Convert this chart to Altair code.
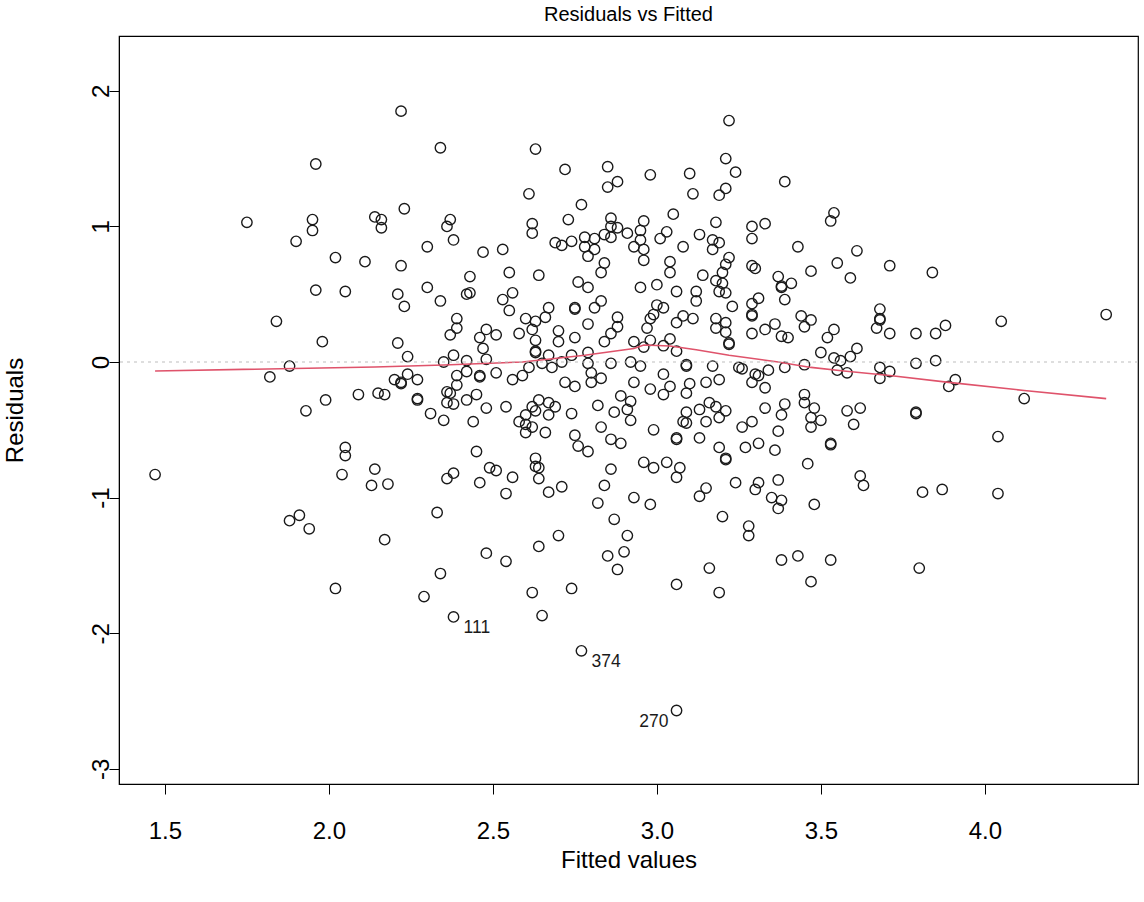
import altair as alt
import pandas as pd

FONT = "Liberation Sans"

# ---- data (fitted value, residual) ----
fit_a = [1.96, 1.75, 1.95, 1.95, 1.90, 2.02, 2.11, 2.14, 2.16, 2.16,
         1.96, 2.05, 1.84, 1.98, 1.88, 1.82, 2.09, 2.15, 1.99, 1.93,
         2.05, 2.05, 2.04, 1.47, 2.14, 2.13, 1.91, 1.88, 1.94, 2.02]
res_a = [1.46, 1.03, 1.05, 0.97, 0.89, 0.77, 0.74, 1.07, 1.05, 0.99,
         0.53, 0.52, 0.30, 0.15, -0.03, -0.11, -0.24, -0.23, -0.28, -0.36,
         -0.63, -0.69, -0.83, -0.83, -0.79, -0.91, -1.13, -1.17, -1.23, -1.67]

fit_b = [2.22, 2.34, 2.63, 2.72, 2.85, 2.88, 2.85, 2.61, 2.77, 2.23,
         2.37, 2.36, 2.38, 2.30, 2.47, 2.53, 2.62, 2.62, 2.73, 2.69,
         2.71, 2.74, 2.78, 2.81, 2.78, 2.81, 2.79, 2.86, 2.86, 2.88,
         2.86, 2.84, 2.91, 2.93, 2.22, 2.43, 2.55, 2.64, 2.84, 2.83,
         2.76, 2.79, 2.30]
res_b = [1.85, 1.58, 1.57, 1.42, 1.44, 1.33, 1.29, 1.24, 1.16, 1.13,
         1.05, 1.00, 0.90, 0.85, 0.81, 0.83, 1.02, 0.95, 1.05, 0.88,
         0.86, 0.89, 0.92, 0.91, 0.85, 0.83, 0.78, 1.06, 1.00, 0.99,
         0.92, 0.94, 0.95, 0.85, 0.71, 0.63, 0.66, 0.64, 0.73, 0.66,
         0.59, 0.55, 0.55]

fit_c = [3.22, 3.21, 3.24, 2.98, 3.10, 3.11, 3.19, 3.21, 3.39, 3.05,
         2.96, 2.95, 2.95, 2.96, 2.96, 3.01, 3.03, 3.08, 3.13, 3.18,
         3.17, 3.19, 3.17, 3.22, 3.21, 3.20, 3.18, 3.20, 3.04, 3.04,
         3.14, 3.00, 2.95, 3.29, 3.29, 3.33, 3.43, 3.54, 3.53, 3.61,
         3.55, 3.47, 3.59, 3.29, 3.30, 3.37, 3.41, 3.38, 3.71, 3.84]
res_c = [1.78, 1.50, 1.40, 1.38, 1.39, 1.24, 1.23, 1.28, 1.33, 1.09,
         1.04, 0.97, 0.90, 0.83, 0.75, 0.91, 0.96, 0.85, 0.94, 1.03,
         0.90, 0.88, 0.83, 0.77, 0.72, 0.66, 0.60, 0.58, 0.74, 0.66,
         0.64, 0.57, 0.55, 1.00, 0.91, 1.02, 0.85, 1.10, 1.04, 0.82,
         0.73, 0.67, 0.62, 0.71, 0.69, 0.63, 0.58, 0.56, 0.71, 0.66]

fit_d = [2.21, 2.23, 2.34, 2.42, 2.43, 2.53, 2.56, 2.55, 2.39, 2.39,
         2.37, 2.46, 2.48, 2.51, 2.47, 2.48, 2.21, 2.24, 2.38, 2.35,
         2.42, 2.42, 2.39, 2.39, 2.46, 2.46, 2.51, 2.56, 2.60, 2.63,
         2.66, 2.67, 2.58, 2.62, 2.63, 2.63, 2.63, 2.67, 2.65, 2.68,
         2.61, 2.59, 2.70, 2.70, 2.75, 2.75, 2.75, 2.79, 2.81, 2.83,
         2.88, 2.88, 2.86, 2.84, 2.74, 2.71, 2.79, 2.79, 2.80, 2.80,
         2.83, 2.86, 2.72, 2.75, 2.20, 2.22, 2.22, 2.24, 2.27, 2.17,
         2.27, 2.27, 2.36, 2.37, 2.36, 2.38, 2.42, 2.45, 2.48, 2.54,
         2.31, 2.35, 2.44, 2.64, 2.67, 2.69, 2.62, 2.63, 2.60, 2.67,
         2.58, 2.60, 2.62, 2.60, 2.66, 2.74, 2.75, 2.76, 2.79, 2.82,
         2.87, 2.83, 2.86, 2.89, 2.89, 2.92, 2.91, 2.92, 2.93, 2.92,
         2.45, 2.63, 2.63, 2.64, 2.64, 2.49, 2.51, 2.56, 2.54, 2.46,
         2.38, 2.36, 2.18, 2.33, 2.67, 2.71, 2.86, 2.84, 2.82, 2.87,
         2.91, 2.70, 2.17]
res_d = [0.50, 0.41, 0.45, 0.50, 0.51, 0.46, 0.51, 0.38, 0.32, 0.25,
         0.20, 0.18, 0.24, 0.20, 0.10, 0.02, 0.14, 0.04, 0.05, 0.00,
         0.01, -0.07, -0.10, -0.17, -0.10, -0.11, -0.08, -0.13, 0.32, 0.30,
         0.33, 0.40, 0.21, 0.24, 0.16, 0.07, 0.08, 0.05, -0.01, -0.04,
         -0.04, -0.10, 0.23, 0.15, 0.18, 0.40, 0.39, 0.28, 0.40, 0.45,
         0.33, 0.26, 0.21, 0.15, 0.05, 0.00, 0.07, -0.01, -0.08, -0.15,
         -0.12, -0.01, -0.15, -0.18, -0.13, -0.15, -0.16, -0.09, -0.13, -0.24,
         -0.27, -0.28, -0.22, -0.23, -0.30, -0.31, -0.28, -0.24, -0.34, -0.33,
         -0.38, -0.43, -0.44, -0.28, -0.30, -0.33, -0.33, -0.36, -0.39, -0.39,
         -0.44, -0.46, -0.48, -0.52, -0.52, -0.38, -0.54, -0.62, -0.66, -0.32,
         -0.37, -0.48, -0.57, -0.60, -0.25, -0.29, -0.35, -0.43, 0.15, 0.00,
         -0.66, -0.71, -0.77, -0.78, -0.86, -0.78, -0.80, -0.85, -0.97, -0.89,
         -0.82, -0.86, -0.90, -1.11, -0.96, -0.92, -0.79, -0.91, -1.04, -1.16,
         -1.28, -1.28, -1.31]

fit_e = [2.48, 2.54, 2.64, 2.85, 2.90, 2.88, 2.34, 2.29, 2.62, 2.74,
         2.65, 2.38, 2.77, 3.16, 3.06, 3.19, 3.38, 3.43, 3.53, 3.47,
         3.06, 3.80]
res_e = [-1.41, -1.47, -1.36, -1.43, -1.40, -1.53, -1.56, -1.73, -1.70, -1.67,
         -1.87, -1.88, -2.13, -1.52, -1.64, -1.70, -1.46, -1.43, -1.46, -1.62,
         -2.57, -1.52]

fit_f = [3.06, 3.12, 3.12, 3.19, 3.21, 3.23, 3.29, 3.31, 3.29, 3.29,
         3.29, 3.38, 3.39, 3.00, 3.02, 2.99, 2.98, 2.97, 3.06, 3.08,
         3.11, 3.18, 3.21, 3.18, 3.21, 3.22, 3.22, 3.04, 3.02, 3.06,
         2.98, 2.96, 3.33, 3.36, 3.38, 3.40, 3.44, 3.47, 3.45, 3.52,
         3.54, 3.50, 3.54, 3.56, 3.59, 3.61, 3.55, 3.58, 3.68, 3.68,
         3.68, 3.67, 3.68, 3.68, 2.95, 3.09, 3.09, 3.17, 3.02, 2.93,
         3.15, 3.19, 3.10, 3.09, 3.04, 3.02, 2.98, 3.25, 3.26, 3.30,
         3.31, 3.34, 3.29, 3.33, 3.39, 3.45, 3.16, 3.18, 3.13, 3.21,
         3.19, 3.15, 3.09, 3.08, 3.09, 2.99, 3.06, 3.06, 3.13, 3.19,
         3.21, 3.21, 3.27, 3.31, 3.26, 3.29, 3.33, 3.39, 3.38, 3.37,
         3.36, 3.45, 3.45, 3.48, 3.47, 3.50, 3.47, 3.58, 3.62, 3.60,
         3.53, 3.53, 3.46, 3.62, 3.63, 2.96, 2.99, 3.03, 3.07, 3.06,
         3.24, 3.31, 3.30, 3.37, 3.35, 3.38, 3.37, 3.15, 3.13, 2.93,
         2.98, 3.20, 3.48, 3.28, 3.28]
res_f = [0.52, 0.52, 0.45, 0.52, 0.51, 0.41, 0.43, 0.47, 0.35, 0.34,
         0.21, 0.55, 0.46, 0.42, 0.40, 0.35, 0.32, 0.25, 0.29, 0.34,
         0.32, 0.32, 0.29, 0.25, 0.22, 0.14, 0.13, 0.17, 0.12, 0.08,
         0.16, 0.11, 0.24, 0.28, 0.19, 0.18, 0.34, 0.31, 0.26, 0.18,
         0.24, 0.07, 0.03, 0.01, 0.04, 0.10, -0.06, -0.08, 0.39, 0.32,
         0.31, 0.25, -0.04, -0.12, -0.03, -0.02, -0.03, -0.03, -0.09, -0.15,
         -0.15, -0.13, -0.16, -0.23, -0.18, -0.24, -0.20, -0.04, -0.05, -0.09,
         -0.10, -0.06, -0.15, -0.19, -0.04, -0.02, -0.30, -0.33, -0.35, -0.36,
         -0.41, -0.44, -0.37, -0.44, -0.45, -0.50, -0.56, -0.57, -0.56, -0.63,
         -0.71, -0.72, -0.63, -0.60, -0.48, -0.44, -0.34, -0.31, -0.39, -0.51,
         -0.65, -0.24, -0.30, -0.34, -0.41, -0.43, -0.48, -0.36, -0.34, -0.46,
         -0.60, -0.61, -0.75, -0.84, -0.91, -0.74, -0.78, -0.74, -0.78, -0.85,
         -0.89, -0.89, -0.94, -0.87, -1.00, -1.02, -1.08, -0.93, -0.99, -1.00,
         -1.05, -1.14, -1.05, -1.21, -1.28]

fit_g = [3.71, 3.79, 3.85, 3.88, 4.05, 4.37, 3.79, 3.85, 3.71, 3.91,
         3.89, 4.12, 3.79, 3.79, 4.04, 3.81, 3.87, 4.04]
res_g = [0.21, 0.21, 0.21, 0.27, 0.30, 0.35, -0.01, 0.01, -0.07, -0.13,
         -0.18, -0.27, -0.37, -0.38, -0.55, -0.96, -0.94, -0.97]

# smoother (red line)
smooth_x = [1.47, 2.14, 2.35, 2.59, 2.78, 2.93, 2.96, 3.04, 3.12, 3.22,
            3.37, 3.47, 3.57, 3.71, 3.89, 4.12, 4.37]
smooth_y = [-0.066, -0.037, -0.022, 0.0, 0.05, 0.10, 0.125, 0.118, 0.09, 0.05,
            0.0, -0.04, -0.066, -0.10, -0.15, -0.21, -0.27]

# labelled observations
lab_fit = [2.38, 2.77, 3.06]
lab_res = [-1.88, -2.13, -2.57]
lab_txt = ["111", "374", "270"]
lab_side = ["right", "right", "left"]

x_ticks = [1.5, 2.0, 2.5, 3.0, 3.5, 4.0]
y_ticks = [-3, -2, -1, 0, 1, 2]

fitted = fit_a + fit_b + fit_c + fit_d + fit_e + fit_f + fit_g
resid = res_a + res_b + res_c + res_d + res_e + res_f + res_g

pts = pd.DataFrame({"fitted": fitted, "resid": resid})
smooth = pd.DataFrame({"fitted": smooth_x, "resid": smooth_y})
labs = pd.DataFrame({"fitted": lab_fit, "resid": lab_res, "txt": lab_txt, "side": lab_side})

xs = alt.Scale(domain=[1.36, 4.467], nice=False, zero=False)
ys = alt.Scale(domain=[-3.112, 2.404], nice=False, zero=False)

x_axis = alt.Axis(values=x_ticks, format=".1f", grid=False, title="Fitted values",
                  tickSize=10, tickColor="black", tickWidth=1, domainColor="black",
                  labelFont=FONT, labelFontSize=24, labelColor="black", labelPadding=25,
                  titleFont=FONT, titleFontSize=24, titleFontWeight="normal",
                  titleColor="black", titleX=509.5, titleY=83, titleBaseline="alphabetic",
                  titleAnchor="middle")
y_axis = alt.Axis(values=y_ticks, labelExpr="datum.value + ''", grid=False, title="Residuals",
                  tickSize=10, tickColor="black", tickWidth=1, domainColor="black",
                  labelFont=FONT, labelFontSize=24, labelColor="black", labelPadding=1,
                  labelAngle=270, labelAlign="center", labelBaseline="alphabetic",
                  titleFont=FONT, titleFontSize=24, titleFontWeight="normal",
                  titleColor="black", titleAngle=270, titleX=-97, titleY=374,
                  titleBaseline="alphabetic", titleAlign="center")

points = alt.Chart(pts).mark_point(shape="circle", filled=False, size=108,
                                   strokeWidth=1.4, color="#1a1a1a", opacity=1).encode(
    x=alt.X("fitted:Q", scale=xs, axis=x_axis),
    y=alt.Y("resid:Q", scale=ys, axis=y_axis),
)

line = alt.Chart(smooth).mark_line(color="#DF536B", strokeWidth=1.6).encode(
    x=alt.X("fitted:Q", scale=xs), y=alt.Y("resid:Q", scale=ys))

zero = alt.Chart(pd.DataFrame({"resid": [0]})).mark_rule(
    color="#bebebe", strokeDash=[3, 4], strokeWidth=1.1).encode(y=alt.Y("resid:Q", scale=ys))

lab_r = alt.Chart(labs).transform_filter(alt.datum.side == "right").mark_text(
    align="left", baseline="alphabetic", dx=10, dy=16, font=FONT, fontSize=17.5, color="#1a1a1a"
).encode(x=alt.X("fitted:Q", scale=xs), y=alt.Y("resid:Q", scale=ys), text="txt:N")
lab_l = alt.Chart(labs).transform_filter(alt.datum.side == "left").mark_text(
    align="right", baseline="alphabetic", dx=-8, dy=16, font=FONT, fontSize=17.5, color="#1a1a1a"
).encode(x=alt.X("fitted:Q", scale=xs), y=alt.Y("resid:Q", scale=ys), text="txt:N")

chart = alt.layer(points, line, zero, lab_r, lab_l).properties(
    width=1019, height=748,
    title=alt.TitleParams("Residuals vs Fitted", font=FONT, fontSize=20, fontWeight="normal",
                          color="black", anchor="middle", baseline="alphabetic", offset=14, dy=19),
    autosize=alt.AutoSizeParams(type="none"),
    padding={"left": 119, "top": 36, "right": 6, "bottom": 118},
    background="white",
).configure_view(stroke="black", strokeWidth=1.2)

chart.save("out.html", embed_options={"renderer": "svg", "actions": False})
